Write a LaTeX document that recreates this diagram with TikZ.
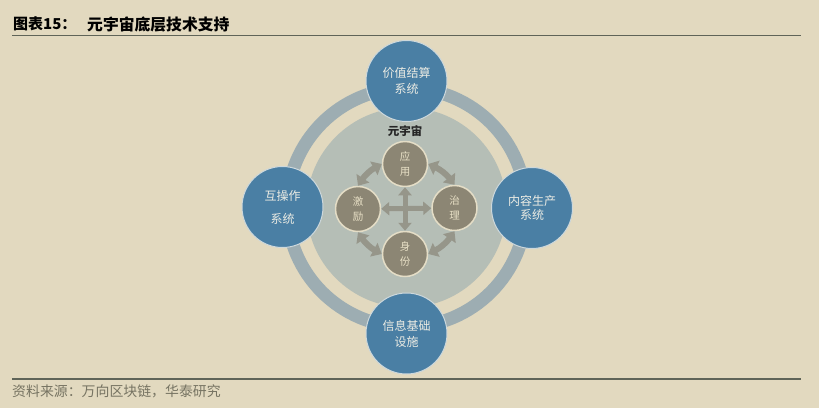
\documentclass[tikz,border=0pt]{standalone}
\usepackage{fontspec}
\setmainfont{Noto Sans CJK SC}
\usetikzlibrary{arrows.meta}
\definecolor{bg}{RGB}{226,217,191}
\definecolor{rulec}{RGB}{95,100,88}
\definecolor{srcc}{RGB}{118,115,98}
\definecolor{ringc}{RGB}{157,173,178}
\definecolor{discc}{RGB}{181,190,182}
\definecolor{bluec}{RGB}{74,127,164}
\definecolor{blueline}{RGB}{205,216,220}
\definecolor{bluetext}{RGB}{236,236,228}
\definecolor{smallc}{RGB}{140,134,116}
\definecolor{smallline}{RGB}{228,221,198}
\definecolor{smalltext}{RGB}{232,224,198}
\definecolor{arrc}{RGB}{150,150,138}
\tikzset{
  rulestyle/.style={draw=rulec, line width=1.2pt},
  bigcirc/.style={circle, fill=bluec, draw=blueline, line width=1pt, minimum size=81pt, inner sep=0pt, align=center, text=bluetext},
  smallcirc/.style={circle, fill=smallc, draw=smallline, line width=1.5pt, minimum size=45pt, inner sep=0pt, align=center, text=smalltext, font=\fontsize{10.5}{15}\selectfont},
  arr/.style={draw=arrc, line width=6pt, {Triangle[width=15pt,length=9pt]}-{Triangle[width=15pt,length=9pt]}},
  crossarr/.style={draw=arrc, line width=5pt, {Triangle[width=13pt,length=8pt]}-{Triangle[width=13pt,length=8pt]}}
}
\begin{document}
\begin{tikzpicture}[x=1pt,y=1pt]
\fill[bg] (0,0) rectangle (819,-408);
\useasboundingbox (0,0) rectangle (819,-408);
% title
\node[anchor=west, inner sep=0pt, font=\bfseries\fontsize{15}{18}\selectfont] (t1) at (13,-24) {图表15：};
\node[anchor=west, inner sep=0pt, font=\bfseries\fontsize{15.8}{18}\selectfont] (t2) at (87,-24) {元宇宙底层技术支持};
\coordinate (r1a) at (12,-35.5); \coordinate (r1b) at (801,-35.5);
\coordinate (r2a) at (12,-379); \coordinate (r2b) at (801,-379);
\draw[rulestyle] (r1a) -- (r1b);
\draw[rulestyle] (r2a) -- (r2b);
\node[anchor=west, inner sep=0pt, text=srcc, font=\fontsize{13.9}{16}\selectfont] (src) at (12,-391) {资料来源：万向区块链，华泰研究};
% ring and disc
\coordinate (O) at (406.5,-207.5);
\draw[ringc, line width=13pt] (O) circle[radius=119.5];
\fill[discc] (O) circle[radius=100];
% big circles
\node[bigcirc, font=\fontsize{12}{16}\selectfont] (PT) at (406.5,-81) {价值结算\\系统};
\node[bigcirc, font=\fontsize{12}{16}\selectfont] (PB) at (406.5,-333.5) {信息基础\\设施};
\node[bigcirc, font=\fontsize{12}{23}\selectfont] (PL) at (282.5,-207) {互操作\\系统};
\node[bigcirc, font=\fontsize{12}{14}\selectfont] (PR) at (532,-208) {内容生产\\系统};
% label
\node[font=\bfseries\fontsize{11.5}{14}\selectfont, text=black!85] (meta) at (405,-131) {元宇宙};
% small circles
\node[smallcirc] (T) at (405,-164) {应\\用};
\node[smallcirc] (L) at (358,-209) {激\\励};
\node[smallcirc] (R) at (454.5,-208) {治\\理};
\node[smallcirc] (B) at (405,-254) {身\\份};
% arrows
\draw[arr] (L.north) to[bend left=14] (T.west);
\draw[arr] (T.east) to[bend left=14] (R.north);
\draw[arr] (R.south) to[bend left=14] (B.east);
\draw[arr] (B.west) to[bend left=14] (L.south);
\draw[crossarr] (T) -- (B);
\draw[crossarr] (L) -- (R);
\end{tikzpicture}
\end{document}
